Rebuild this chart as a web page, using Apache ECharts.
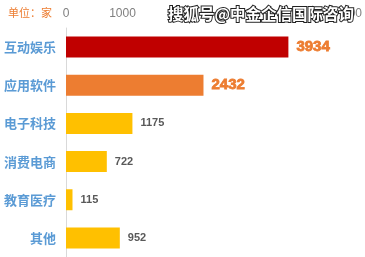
<!DOCTYPE html>
<html>
    <head>
        <meta charset="utf-8">
    </head>
    <body style="margin:0">
        <div id="main" style="width: 365px; height: 257px"></div>
        <script type="text/javascript" src="https://cdn.jsdelivr.net/npm/echarts@6/dist/echarts.min.js"></script>
        <script type="text/javascript">
            const categories = ['互动娱乐', '应用软件', '电子科技', '消费电商', '教育医疗', '其他'];
            const values = [3934, 2432, 1175, 722, 115, 952];
            const barColors = ['#C00000', '#ED7D31', '#FFC000', '#FFC000', '#FFC000', '#FFC000'];
            const xTicks = [0, 1000, 2000, 3000, 4000, 5000];

            var myChart = echarts.init(document.getElementById('main'));

            const barData = values.map(function (v, i) {
                const big = i < 2;
                return {
                    value: v,
                    itemStyle: { color: barColors[i] },
                    label: {
                        color: big ? '#ED7D31' : '#595959',
                        fontSize: big ? 15 : 11,
                        fontWeight: 'bold',
                        textBorderColor: big ? '#ED7D31' : 'transparent',
                        textBorderWidth: big ? 0.8 : 0
                    }
                };
            });

            var option = {
                animation: false,
                grid: { left: 66, right: 15, top: 28, bottom: -7, containLabel: false },
                xAxis: {
                    type: 'value',
                    position: 'top',
                    min: xTicks[0],
                    max: xTicks[xTicks.length - 1],
                    interval: 1000,
                    axisLine: { show: false },
                    axisTick: { show: false },
                    splitLine: { show: false },
                    axisLabel: {
                        color: '#7F7F7F', fontSize: 12, margin: 8,
                        fontFamily: 'Arial, Liberation Sans',
                        formatter: function (v) { return String(v); }
                    }
                },
                yAxis: {
                    type: 'category',
                    inverse: true,
                    data: categories,
                    axisLine: { show: true, lineStyle: { color: '#D9D9D9' } },
                    axisTick: { show: false },
                    axisLabel: { color: '#5B9BD5', fontSize: 13, fontWeight: 'bold', margin: 10, fontFamily: 'Noto Sans CJK SC' }
                },
                series: [{
                    type: 'bar',
                    data: barData,
                    barWidth: 21,
                    label: { show: true, position: 'right', distance: 8, fontFamily: 'Arial, Liberation Sans' }
                }],
                graphic: [
                    {
                        type: 'text',
                        left: 8,
                        top: 7,
                        style: { text: '单位：家', fill: '#ED7D31', font: '11px "Noto Sans CJK SC"' }
                    },
                    {
                        type: 'rect',
                        shape: { x: 163, y: 3, width: 180, height: 22 },
                        style: { fill: '#fff' },
                        z: 100
                    },
                    {
                        type: 'text',
                        left: 167,
                        top: 5,
                        z: 101,
                        style: {
                            text: '搜狐号@中金企信国际咨询',
                            fill: '#fff',
                            stroke: '#222',
                            lineWidth: 2,
                            font: 'bold 15.5px "Noto Sans CJK SC"'
                        }
                    }
                ]
            };

            option && myChart.setOption(option);
        </script>
    </body>
</html>
